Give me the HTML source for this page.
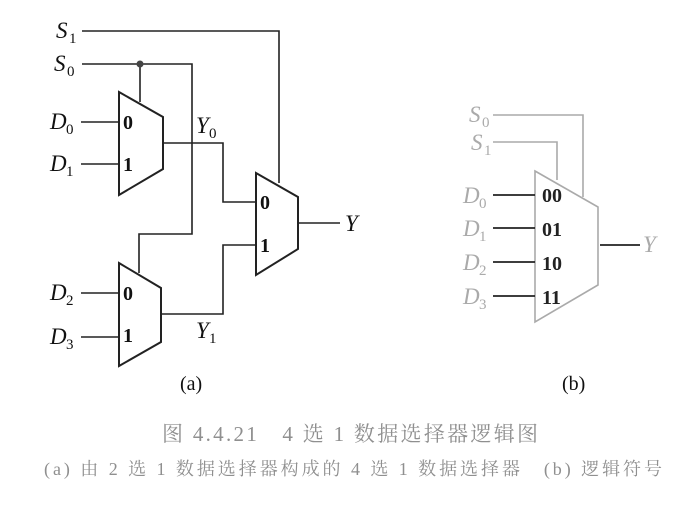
<!DOCTYPE html>
<html><head><meta charset="utf-8"><style>
body{margin:0;width:693px;height:509px;background:#fff;overflow:hidden}
svg{display:block}
.it{font-family:"Liberation Serif",serif;font-style:italic;font-size:23px}
.sb{font-family:"Liberation Serif",serif;font-size:15px}
.b{font-family:"Liberation Serif",serif;font-weight:bold;font-size:20px}
.cap{font-family:"Liberation Serif","Noto Serif CJK SC",serif;fill:#8f8f8f}
</style></head><body>
<svg width="693" height="509" viewBox="0 0 693 509" xmlns="http://www.w3.org/2000/svg">
<g stroke="#222" stroke-width="1.6" fill="none">
<polyline points="82,31 279,31 279,183"/>
<polyline points="82,64 192,64 192,234 139,234 139,273"/>
<line x1="140" y1="64" x2="140" y2="102"/>
<polygon points="119,92 163,117 163,169 119,195" stroke-width="2"/>
<polygon points="119,263 161,288 161,342 119,366" stroke-width="2"/>
<polygon points="256,173 298,197 298,249 256,275" stroke-width="2"/>
<line x1="81" y1="122" x2="119" y2="122"/>
<line x1="81" y1="164" x2="119" y2="164"/>
<line x1="81" y1="293" x2="119" y2="293"/>
<line x1="81" y1="337" x2="119" y2="337"/>
<polyline points="163,143 223,143 223,202 256,202"/>
<polyline points="161,314 223,314 223,245 256,245"/>
<line x1="298" y1="223" x2="340" y2="223"/>
</g>
<circle cx="140" cy="64" r="3.5" fill="#444"/>
<g fill="#111">
<text class="it" x="56" y="38">S</text><text class="sb" x="69" y="43">1</text>
<text class="it" x="54" y="71">S</text><text class="sb" x="67" y="76">0</text>
<text class="it" x="50" y="129">D</text><text class="sb" x="66" y="134">0</text>
<text class="it" x="50" y="171">D</text><text class="sb" x="66" y="176">1</text>
<text class="it" x="50" y="300">D</text><text class="sb" x="66" y="305">2</text>
<text class="it" x="50" y="344">D</text><text class="sb" x="66" y="349">3</text>
<text class="it" x="196" y="133">Y</text><text class="sb" x="209" y="138">0</text>
<text class="it" x="196" y="338">Y</text><text class="sb" x="209" y="343">1</text>
<text class="it" x="345" y="231">Y</text>
<text class="b" x="123" y="129">0</text><text class="b" x="123" y="171">1</text>
<text class="b" x="123" y="300">0</text><text class="b" x="123" y="342">1</text>
<text class="b" x="260" y="209">0</text><text class="b" x="260" y="252">1</text>
<text x="180" y="390" font-family="Liberation Serif,serif" font-size="20">(a)</text>
<text x="562" y="390" font-family="Liberation Serif,serif" font-size="20">(b)</text>
</g>
<g stroke="#aaa" stroke-width="1.6" fill="none">
<polyline points="493,115 583,115 583,197"/>
<polyline points="493,142 557,142 557,180"/>
<polygon points="535,171 598,207 598,285 535,322"/>
</g>
<g stroke="#222" stroke-width="1.8">
<line x1="493" y1="195" x2="535" y2="195"/>
<line x1="493" y1="228" x2="535" y2="228"/>
<line x1="493" y1="262" x2="535" y2="262"/>
<line x1="493" y1="296" x2="535" y2="296"/>
<line x1="600" y1="245" x2="640" y2="245"/>
</g>
<g fill="#aaa">
<text class="it" x="469" y="122">S</text><text class="sb" x="482" y="127">0</text>
<text class="it" x="471" y="150">S</text><text class="sb" x="484" y="155">1</text>
<text class="it" x="463" y="203">D</text><text class="sb" x="479" y="208">0</text>
<text class="it" x="463" y="236">D</text><text class="sb" x="479" y="241">1</text>
<text class="it" x="463" y="270">D</text><text class="sb" x="479" y="275">2</text>
<text class="it" x="463" y="304">D</text><text class="sb" x="479" y="309">3</text>
<text class="it" x="643" y="252">Y</text>
</g>
<g fill="#222">
<text class="b" x="542" y="202">00</text><text class="b" x="542" y="236">01</text>
<text class="b" x="542" y="270">10</text><text class="b" x="542" y="304">11</text>
</g>
<text class="cap" x="162" y="441" font-size="21" textLength="376" lengthAdjust="spacing">图 4.4.21　4 选 1 数据选择器逻辑图</text>
<text class="cap" x="44" y="475" font-size="18" textLength="618" lengthAdjust="spacing">(a) 由 2 选 1 数据选择器构成的 4 选 1 数据选择器　(b) 逻辑符号</text>
</svg>
</body></html>
